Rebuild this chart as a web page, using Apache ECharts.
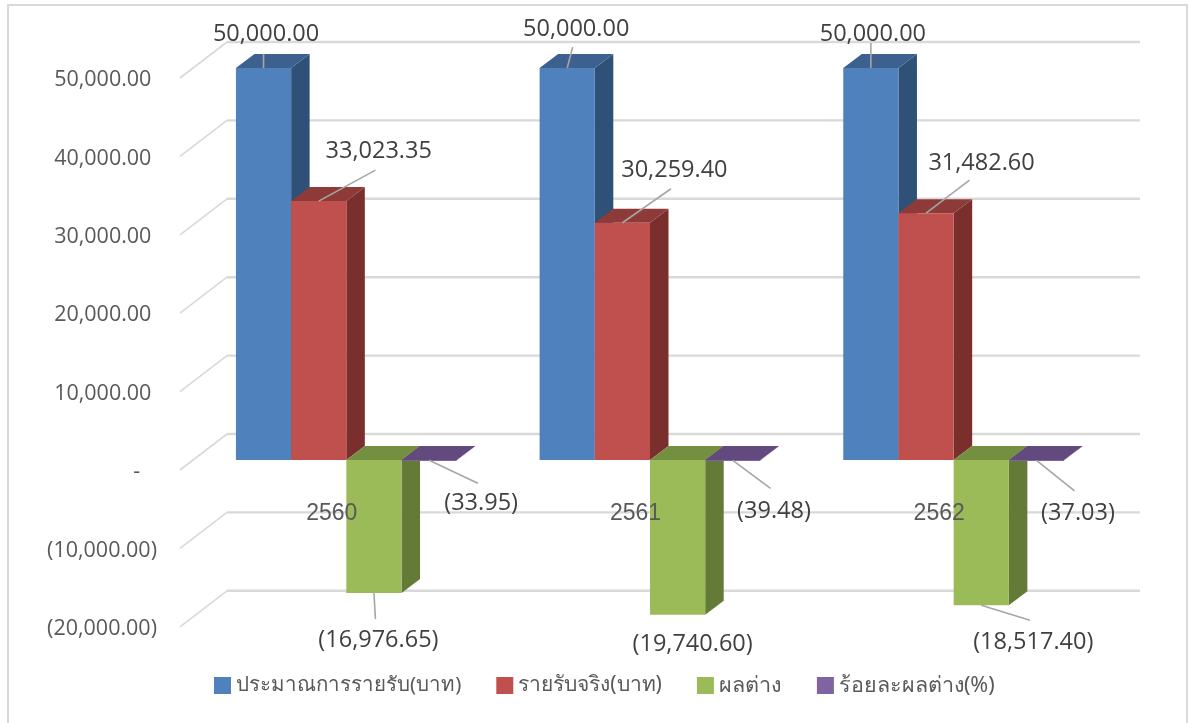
<!DOCTYPE html>
<html><head><meta charset="utf-8">
<style>html,body{margin:0;padding:0;background:#fff}#c{width:1189px;height:723px}</style>
<script src="https://cdn.jsdelivr.net/npm/echarts@6/dist/echarts.min.js"></script>
</head><body><div id="c"></div>
<script>
const categories = ['2560', '2561', '2562'];
const seriesNames = ['ประมาณการรายรับ(บาท)', 'รายรับจริง(บาท)', 'ผลต่าง', 'ร้อยละผลต่าง(%)'];
const estimated = [50000, 50000, 50000];
const actual = [33023.35, 30259.40, 31482.60];
const difference = [-16976.65, -19740.60, -18517.40];
const percent = [-33.95, -39.48, -37.03];
const yTicks = [-20000, -10000, 0, 10000, 20000, 30000, 40000, 50000];

// styles and label layout, kept apart from the values
const palette = [
  {front:'#4f81bd', top:'#3c618f', side:'#2f5077'},
  {front:'#c0504d', top:'#8e3a38', side:'#7a2f2d'},
  {front:'#9bbb59', top:'#748f40', side:'#647a37'},
  {front:'#8064a2', top:'#62497e', side:'#4f3a68'}
];
const legendFontSizes = [20.5, 21, 21.6, 21.5];
const BAR_W = 55.2, DEPTH_X = 18.5, DEPTH_Y = -14, GROUP_SHIFT = 14.5, FRONT_DY = -10;
const WALL_DX = 47, WALL_DY = -36, WALL_EXTRA = 2;
// per series, per category: [label dx, label dy, leader end dx, leader end dy] relative to the bar end
const labelOffsets = [
  [[2.5,-34,0,-14],[9,-39,5.5,-21],[2,-34,0,-25]],
  [[60,-50,56.7,-31],[52,-52,48.6,-34],[55.5,-50,43.5,-33]],
  [[4.5,47,1.5,26],[15,30,null,null],[52,37,48.7,15]],
  [[52,43,48.7,23],[41.2,51,37.7,28],[41.5,53,38,30.7]]
];
const fmt = v => {
  const s = Math.abs(v).toLocaleString('en-US',{minimumFractionDigits:2,maximumFractionDigits:2});
  return v < 0 ? '('+s+')' : s;
};
const poly = (points, fill) => ({type:'polygon', shape:{points}, style:{fill}});

function barRenderer(si){
  return function(params, api){
    const ci = api.value(0), v = api.value(1);
    const p = api.coord([ci, v]), z = api.coord([ci, 0]);
    const left = p[0] + GROUP_SHIFT + (si - 2) * BAR_W, right = left + BAR_W;
    const yEnd = p[1] + FRONT_DY, yBase = z[1] + FRONT_DY;
    const yTop = Math.min(yEnd, yBase), yBot = Math.max(yEnd, yBase);
    const c = palette[si], ch = [];
    ch.push(poly([[right,yTop],[right+DEPTH_X,yTop+DEPTH_Y],[right+DEPTH_X,yBot+DEPTH_Y],[right,yBot]], c.side));
    ch.push(poly([[left,yTop],[left+DEPTH_X,yTop+DEPTH_Y],[right+DEPTH_X,yTop+DEPTH_Y],[right,yTop]], c.top));
    ch.push({type:'rect', shape:{x:left,y:yTop,width:BAR_W,height:Math.max(yBot-yTop,1)}, style:{fill:c.front}});
    const o = labelOffsets[si][ci], ax = left + BAR_W/2;
    if (o[2] !== null) ch.push({type:'line', z2:5, shape:{x1:ax,y1:yEnd,x2:ax+o[2],y2:yEnd+o[3]}, style:{stroke:'#a6a6a6',lineWidth:1.6}});
    ch.push({type:'text', z2:6, x:ax+o[0], y:yEnd+o[1], style:{text:fmt(v), fill:'#404040', font:'23.5px "Open Sans"', align:'center', verticalAlign:'middle'}});
    return {type:'group', children:ch};
  };
}
function gridRenderer(params, api){
  const y = api.coord([0, api.value(1)])[1];
  const x0 = params.coordSys.x, w = params.coordSys.width;
  return {type:'group', children:[
    {type:'line', shape:{x1:x0+WALL_DX,y1:y+WALL_DY,x2:x0+WALL_DX+w+WALL_EXTRA,y2:y+WALL_DY}, style:{stroke:'#d9d9d9',lineWidth:2.4}},
    {type:'line', shape:{x1:x0,y1:y,x2:x0+WALL_DX,y2:y+WALL_DY}, style:{stroke:'#d9d9d9',lineWidth:1.6}}
  ]};
}
const allValues = [estimated, actual, difference, percent];
const chart = echarts.init(document.getElementById('c'), null, {renderer:'canvas'});
chart.setOption({
  animation:false,
  backgroundColor:'#fff',
  graphic:[{type:'rect', silent:true, z:-1, shape:{x:8,y:5,width:1179,height:760}, style:{fill:'none',stroke:'#d9d9d9',lineWidth:2}}],
  grid:{left:180, top:78, width:911, height:548.8},
  xAxis:{type:'category', data:categories, z:10,
    axisLine:{show:false, onZero:false}, axisTick:{show:false},
    axisLabel:{margin:-125, color:'#595959', fontFamily:'Liberation Sans', fontSize:23}},
  yAxis:{type:'value', min:-20000, max:50000, interval:10000,
    axisLine:{show:false}, axisTick:{show:false}, splitLine:{show:false},
    axisLabel:{margin:23, color:'#595959', fontFamily:'Open Sans', fontSize:21.5, verticalAlign:'top', lineHeight:4,
      formatter:v => v === 0 ? '-\u00A0\u00A0\u00A0' : (v < 0 ? fmt(v) : fmt(v) + '\u00A0')}},
  legend:{data:seriesNames.map((name,i)=>({name, textStyle:{fontSize:legendFontSizes[i]}})),
    left:214, top:674.5, padding:0, icon:'rect', itemWidth:17, itemHeight:17, itemGap:35,
    textStyle:{color:'#595959', fontFamily:'Noto Sans'}},
  series:[
    {type:'custom', name:'grid', renderItem:gridRenderer, silent:true, z:1, data:yTicks.map(v=>[0,v])}
  ].concat(seriesNames.map((name,si)=>({
    type:'custom', name, z:2+si, clip:false, renderItem:barRenderer(si),
    itemStyle:{color:palette[si].front},
    data:allValues[si].map((v,ci)=>[ci,v])
  })))
});
</script></body></html>
